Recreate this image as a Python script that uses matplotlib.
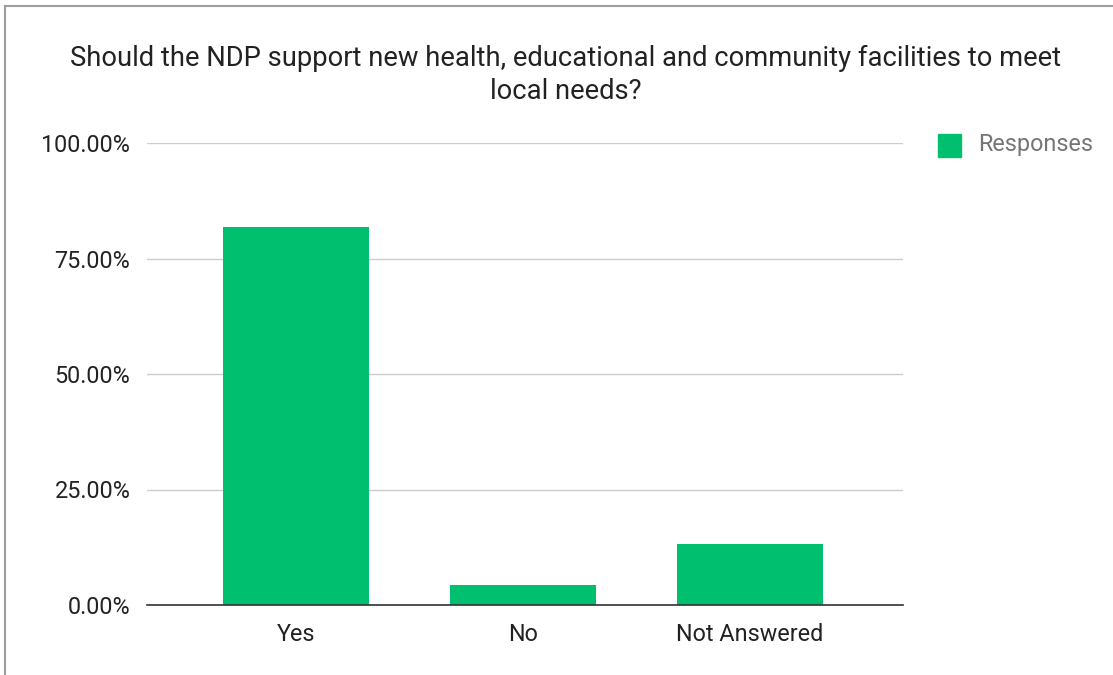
import matplotlib
matplotlib.use("Agg")
import matplotlib.pyplot as plt
from matplotlib.patches import Rectangle
from matplotlib.lines import Line2D
from matplotlib.ticker import FuncFormatter

categories = ["Yes", "No", "Not Answered"]
responses = [81.9, 4.4, 13.3]
y_ticks = [0, 25, 50, 75, 100]

title = "Should the NDP support new health, educational and community facilities to meet\nlocal needs?"
bar_color = "#00bf6f"

plt.rcParams["font.family"] = ["Roboto", "DejaVu Sans"]

W, H = 1113, 675
fig = plt.figure(figsize=(W / 100, H / 100), dpi=100)

# plot area in pixel coordinates
x0, x1 = 147, 903
y_top, y_bot = 143, 605
ax = fig.add_axes([x0 / W, 1 - y_bot / H, (x1 - x0) / W, (y_bot - y_top) / H])

xs = range(len(categories))
ax.bar(xs, responses, width=0.645, color=bar_color, zorder=3)

ax.set_xlim(-0.656, 2.675)
ax.set_ylim(0, 100)
ax.set_yticks(y_ticks)
ax.yaxis.set_major_formatter(FuncFormatter(lambda v, p: f"{v:.2f}%"))
ax.set_xticks(list(xs))
ax.set_xticklabels(categories)

ax.grid(axis="y", color="#cccccc", linewidth=1, zorder=0)
for s in ["top", "right", "left"]:
    ax.spines[s].set_visible(False)
ax.spines["bottom"].set_color("#333333")
ax.spines["bottom"].set_linewidth(1.2)
ax.spines["bottom"].set_zorder(4)
ax.tick_params(axis="both", length=0, labelsize=16.8, colors="#222222")
ax.tick_params(axis="y", pad=12)
ax.tick_params(axis="x", pad=13)

fig.text(566 / W, 1 - 75 / H, title, ha="center", va="center",
         fontsize=19.75, color="#222222", linespacing=1.3)

# legend
fig.patches.append(Rectangle((938 / W, 1 - 157 / H), 23 / W, 23 / H,
                             transform=fig.transFigure, color=bar_color))
fig.text(978 / W, 1 - 145 / H, "Responses", ha="left", va="center",
         fontsize=16.8, color="#757575")

# outer frame (top and left edges)
fig.add_artist(Line2D([5 / W, 1], [1 - 6 / H, 1 - 6 / H], transform=fig.transFigure,
                      color="#9e9e9e", linewidth=1.5))
fig.add_artist(Line2D([5 / W, 5 / W], [0, 1 - 6 / H], transform=fig.transFigure,
                      color="#9e9e9e", linewidth=1.5))

fig.savefig("out.png", dpi=100, facecolor="white")
